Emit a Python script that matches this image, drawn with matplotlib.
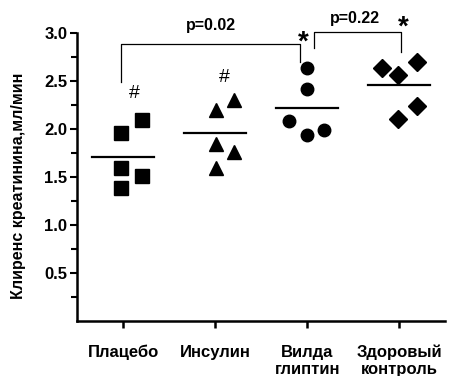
import matplotlib.pyplot as plt
import numpy as np

plt.rcParams['font.family'] = ['Liberation Sans', 'DejaVu Sans']
plt.rcParams['font.weight'] = 'bold'

groups = ["Плацебо", "Инсулин", "Вилда\nглиптин", "Здоровый\nконтроль"]
placebo_x = [0.98, 1.21, 0.98, 1.21, 0.98]
placebo_y = [1.96, 2.09, 1.59, 1.51, 1.39]
insulin_x = [2.01, 2.2, 2.01, 2.2, 2.01]
insulin_y = [2.20, 2.30, 1.84, 1.76, 1.59]
vilda_x = [3.0, 3.0, 2.8, 3.0, 3.18]
vilda_y = [2.64, 2.42, 2.08, 1.94, 1.99]
healthy_x = [3.81, 3.99, 4.19, 4.19, 3.99]
healthy_y = [2.64, 2.56, 2.70, 2.24, 2.10]
means = [1.71, 1.96, 2.22, 2.46]

fig = plt.figure(figsize=(4.51, 3.76), dpi=100)
ax = fig.add_axes([0.171, 0.146, 0.816, 0.766])

ax.plot(placebo_x, placebo_y, 's', color='black', markersize=9.5, linestyle='none')
ax.plot(insulin_x, insulin_y, '^', color='black', markersize=9.5, linestyle='none')
ax.plot(vilda_x, vilda_y, 'o', color='black', markersize=9, linestyle='none')
ax.plot(healthy_x, healthy_y, 'D', color='black', markersize=9, linestyle='none')

for i, m in enumerate(means):
    ax.plot([i + 1 - 0.34, i + 1 + 0.34], [m, m], color='black', lw=1.6)

# brackets
ax.plot([0.98, 0.98, 2.92, 2.92], [2.49, 2.89, 2.89, 2.70], color='black', lw=0.9, clip_on=False)
ax.text(1.95, 3.0, "p=0.02", ha='center', va='bottom', fontsize=11.5, fontweight='bold')
ax.plot([3.07, 3.07, 4.02, 4.02], [2.84, 3.01, 3.01, 2.80], color='black', lw=0.9, clip_on=False)
ax.text(3.52, 3.07, "p=0.22", ha='center', va='bottom', fontsize=11.5, fontweight='bold', clip_on=False)
ax.text(2.96, 2.90, "*", ha='center', va='center', fontsize=20, fontweight='bold', clip_on=False)
ax.text(4.05, 3.06, "*", ha='center', va='center', fontsize=20, fontweight='bold', clip_on=False)
ax.text(1.12, 2.37, "#", ha='center', va='center', fontsize=14, fontweight='normal')
ax.text(2.1, 2.54, "#", ha='center', va='center', fontsize=14, fontweight='normal')

ax.set_xlim(0.5, 4.5)
ax.set_ylim(0, 3.0)
ax.set_xticks([1, 2, 3, 4])
ax.set_xticklabels(groups, fontsize=12, fontweight='bold', linespacing=1.15)
ax.set_yticks([0.5, 1.0, 1.5, 2.0, 2.5, 3.0])
ax.set_yticklabels(["0.5", "1.0", "1.5", "2.0", "2.5", "3.0"], fontsize=12, fontweight='bold')
ax.set_yticks(np.arange(0.25, 3.0, 0.5), minor=True)
ax.tick_params(axis='x', length=5, width=1.8, pad=12)
ax.tick_params(axis='y', which='major', length=5, width=1.5, pad=2)
ax.tick_params(axis='y', which='minor', length=4, width=1.5)
ax.spines['top'].set_visible(False)
ax.spines['right'].set_visible(False)
ax.spines['left'].set_linewidth(1.8)
ax.spines['bottom'].set_linewidth(1.8)
ax.set_ylabel("Клиренс креатинина,мл/мин", fontsize=11.5, fontweight='bold')
ax.yaxis.set_label_coords(-0.14, 0.47)

fig.savefig("out.png", dpi=100)
